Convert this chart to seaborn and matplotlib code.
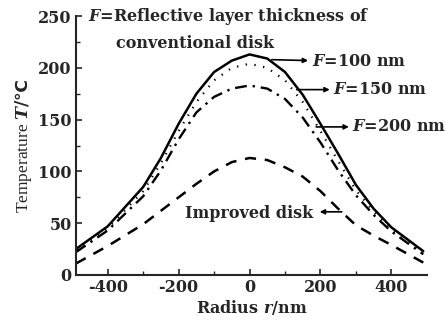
import numpy as np
import pandas as pd
import matplotlib
matplotlib.use("Agg")
import matplotlib.pyplot as plt
import seaborn as sns

# --- data ---
radius = [-490, -400, -300, -250, -200, -150, -100, -50, 0, 50, 100, 150, 200, 250, 300, 350, 400, 490]
temp_f100 = [25, 47, 85, 113, 146, 175, 196, 207, 213, 209, 196, 174, 146, 117, 87, 64, 46, 23]
temp_f150 = [24, 45, 81, 108, 139, 167, 188, 200, 204, 200, 188, 167, 139, 110, 82, 61, 44, 22]
temp_f200 = [22, 43, 76, 101, 131, 157, 172, 180, 183, 180, 170, 152, 128, 101, 77, 58, 42, 20]
temp_improved = [11, 28, 49, 62, 75, 88, 100, 109, 113, 111, 104, 95, 81, 64, 48, 38, 29, 12]

sns.set_style("ticks")
plt.rcParams["font.family"] = ["DejaVu Serif", "DejaVu Sans"]
plt.rcParams["font.weight"] = "bold"
plt.rcParams["axes.labelweight"] = "bold"
plt.rcParams["axes.unicode_minus"] = False
plt.rcParams["mathtext.fontset"] = "custom"
plt.rcParams["mathtext.it"] = "DejaVu Serif:italic:bold"
plt.rcParams["mathtext.rm"] = "DejaVu Sans"

df = pd.DataFrame({"r": radius, "f100": temp_f100, "f150": temp_f150,
                   "f200": temp_f200, "imp": temp_improved})

fig = plt.figure(figsize=(4.46, 3.22), dpi=100)
ax = fig.add_axes([0.170, 0.146, 0.787, 0.804])

sns.lineplot(data=df, x="r", y="f100", ax=ax, color="black", lw=1.8)
sns.lineplot(data=df, x="r", y="f150", ax=ax, color="black", lw=1.6, linestyle=(0, (0.6, 3.4)))
sns.lineplot(data=df, x="r", y="f200", ax=ax, color="black", lw=1.7, linestyle=(0, (5, 2.5, 1, 2.5)))
sns.lineplot(data=df, x="r", y="imp", ax=ax, color="black", lw=1.8, linestyle=(0, (4.5, 3.5)))

ax.set_xlim(-490, 500)
ax.set_ylim(0, 250)
ax.set_xticks([-400, -200, 0, 200, 400])
ax.set_xticks([-300, -100, 100, 300], minor=True)
ax.set_yticks([0, 50, 100, 150, 200, 250])
ax.set_yticks(np.arange(25, 250, 50), minor=True)
ax.tick_params(direction="in", length=4, width=1.2, labelsize=11.5, pad=3)
ax.tick_params(which="minor", direction="in", length=3, width=1.0)
for s in ["top", "right"]:
    ax.spines[s].set_visible(False)
for s in ["left", "bottom"]:
    ax.spines[s].set_linewidth(1.5)

ax.set_xlabel("Radius $r$/nm", fontsize=11.5, labelpad=1)
ax.set_ylabel(r"Temperature $T/\mathrm{℃}$", fontsize=12.5, fontfamily="Liberation Serif",
              fontweight="normal", labelpad=3)

ax.text(-457, 250, "$F$=Reflective layer thickness of", fontsize=11.5, va="center", ha="left")
ax.text(-377, 224, "conventional disk", fontsize=11.5, va="center", ha="left")

arrow = dict(arrowstyle="-|>", color="black", lw=1.2, mutation_scale=7)
ax.text(175, 206, "$F$=100 nm", fontsize=11.5, va="center", ha="left")
ax.annotate("", xy=(173, 207), xytext=(55, 208), arrowprops=arrow)
ax.text(236, 179, "$F$=150 nm", fontsize=11.5, va="center", ha="left")
ax.annotate("", xy=(234, 179), xytext=(125, 179), arrowprops=arrow)
ax.text(290, 143, "$F$=200 nm", fontsize=11.5, va="center", ha="left")
ax.annotate("", xy=(288, 143), xytext=(180, 143), arrowprops=arrow)
ax.text(-183, 59, "Improved disk", fontsize=11.5, va="center", ha="left")
ax.annotate("", xy=(190, 61), xytext=(268, 61), arrowprops=arrow)

fig.savefig("out.png", dpi=100)
